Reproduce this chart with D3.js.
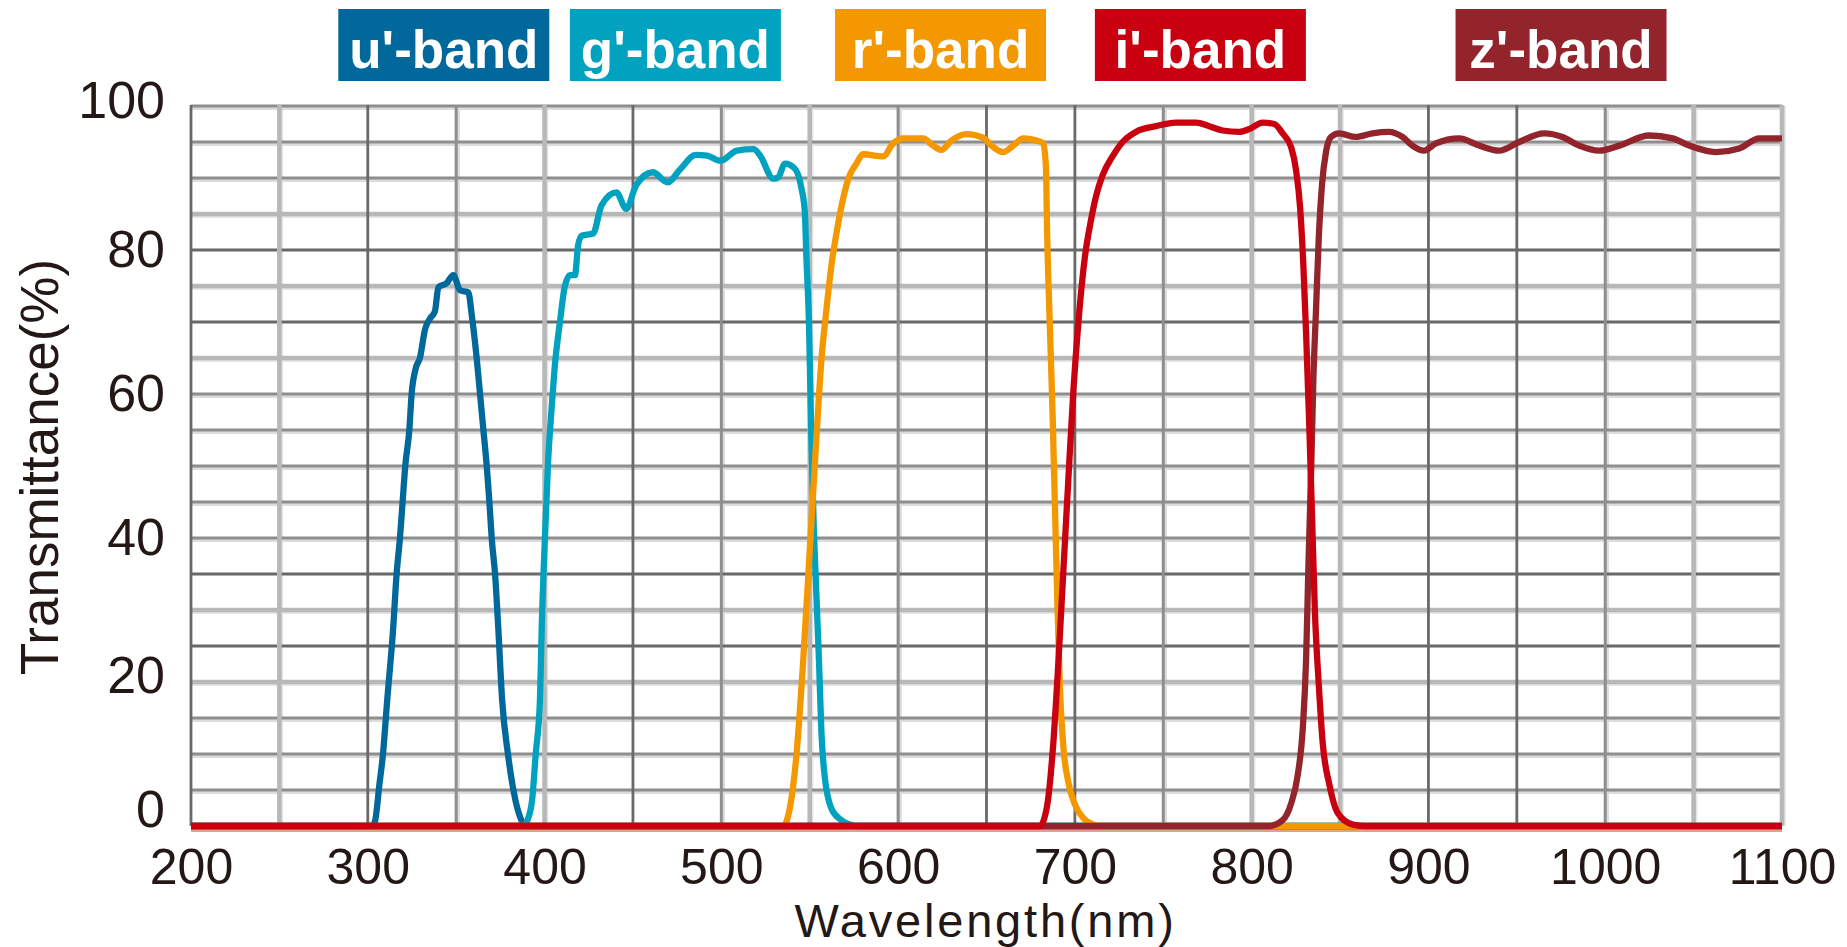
<!DOCTYPE html>
<html>
<head>
<meta charset="utf-8">
<script src="https://cdn.jsdelivr.net/npm/d3@7"></script>
<style>
  html, body { margin: 0; padding: 0; background: #ffffff; }
  svg { display: block; }
  text { font-family: "Liberation Sans", Arial, Helvetica, sans-serif; }
</style>
</head>
<body>
<svg id="chart" width="1847" height="947"></svg>
<script>
// ---------------- DATA ----------------
const bandNames = ["u'-band", "g'-band", "r'-band", "i'-band", "z'-band"];
const bandLabelCenters = [343, 474, 624, 771, 975];   // nm, where each legend tag is centred
const xTickValues = [200, 300, 400, 500, 600, 700, 800, 900, 1000, 1100];
const yTickValues = [0, 20, 40, 60, 80, 100];
const xTitle = "Wavelength(nm)";
const yTitle = "Transmittance(%)";

// [wavelength nm, transmittance %]
const uBand = [[200,0],[302,0],[304,0.6],[306.6,5.8],[308.6,10],[311,17.5],[314.4,27.6],[316.3,35],[318.2,40],
  [319.7,45],[321.2,50],[323.5,55],[324.8,60],[327.3,63.7],[329.5,65],[332.4,69],[335.2,70.5],[338,71.5],
  [339.9,74.8],[344.6,75.4],[348.4,76.5],[352.2,74.4],[356.9,74.1],[358.8,71],[361.6,65],[363.5,60],
  [365.4,55],[367.3,50],[368.8,45],[370.1,40],[372,35],[373.8,27.6],[376,17.5],[379.3,10],[383.6,3.5],
  [387.3,0.6],[389,0],[1100,0]];

const gBand = [[200,0],[389,0],[390,0.6],[392.9,3.5],[395,10],[397.4,17.5],[398.4,27.6],[400.2,40],[402,50.6],
  [404,58],[406,64.4],[408.7,70],[411.5,75],[414.4,76.5],[417.2,76.5],[419,80.7],[421,82],[427.5,82.3],
  [432.2,86.2],[440.6,88],[446.2,85.7],[451.8,89],[461.2,90.8],[469.6,89.4],[477,91.3],[485.5,93.2],
  [492,93.1],[499.5,92.4],[508.8,93.8],[518.2,94],[522,93.1],[529.4,89.9],[532.2,90.1],[536,92],
  [541.6,91.3],[545.3,88.6],[547.2,85.4],[548.1,79.1],[549.6,69.7],[550.9,54],[552.3,41.4],[553.8,32],
  [555.3,22.5],[556.6,13.1],[558.5,6.8],[562.3,2.4],[567.9,0.8],[572.6,0.2],[576,0],[1100,0]];

const rBand = [[200,0],[534.9,0],[538.7,2.4],[542.5,9.9],[546.2,22.5],[550,38.2],[553.8,54],[556.6,64.7],
  [559.4,71.6],[562.3,77.9],[565.1,82.3],[567.9,86],[571.7,89.8],[576.4,92],[580.2,93.3],[591.5,93],
  [597.2,94.8],[602.8,95.5],[614.2,95.5],[619.8,94.5],[624.5,93.9],[630.2,95.2],[638.7,96.1],[648.1,95.6],
  [652.8,94.5],[659.4,93.6],[665.1,94.5],[670.8,95.5],[678.3,95.2],[682.1,94.8],[683.6,91.7],[684.3,82.3],
  [685.8,69.7],[687.4,57.1],[688.7,44.5],[690,32],[691.5,19.4],[693.4,11.2],[696.2,6.2],[700,3],
  [704.7,1.1],[710.4,0.2],[714,0],[1100,0]];

const iBand = [[200,0],[680.2,0],[684,2.4],[687.7,11.2],[690.6,22.5],[693.4,35.1],[696.2,47.7],[699.1,60.3],
  [701.9,69.7],[705.7,79.1],[709,84],[712,87.5],[715.7,90.4],[721.3,93],[727,95],[734.5,96.4],[745.8,97.2],
  [757.2,97.7],[768.5,97.7],[776,97.2],[783.6,96.6],[793,96.4],[798.7,96.8],[806.2,97.7],[812.8,97.5],
  [817.5,96.2],[822.3,94.3],[825.1,91.1],[827.4,85.9],[829.2,78.1],[830.8,68.4],[832.6,55.5],[834.2,42.6],
  [835.8,29.6],[837.9,19.9],[840.2,11.5],[844,5.7],[848.7,1.8],[857.2,0.2],[864.7,0],[1100,0]];

const zBand = [[200,0],[810,0],[817.5,0.8],[822.3,3.1],[826,7],[828.9,13.5],[830.8,23.2],[832.1,36.1],
  [833.6,49],[834.9,62],[836.4,71.7],[837.9,81.4],[839.8,89.1],[842.1,93.7],[844.9,95.7],[849.4,96.2],
  [858.9,95.7],[868.3,96.2],[877.7,96.4],[885.3,95.7],[890.9,94.5],[897.5,93.8],[904.2,94.8],[917.4,95.5],
  [928.7,94.5],[940,93.8],[951.3,95],[965.5,96.2],[975.8,95.7],[985.3,94.5],[996.6,93.8],[1007.9,94.5],
  [1024.9,95.9],[1038.1,95.5],[1047.5,94.5],[1062.6,93.6],[1075.8,94.1],[1087.2,95.5],[1100,95.5]];

const bandSeries = [uBand, gBand, rBand, iBand, zBand];

// ---------------- STYLE ----------------
const bandColors = ["#00689a", "#00a2bf", "#f39800", "#c9000f", "#93242c"];
const drawOrder = [0, 1, 2, 4, 3];
// tone of each grid line as it appears in the reference (D dark, M mid, L light)
const vGridTones = ["D","L","D","M","L","D","M","L","M","D","D","M","L","L","D","D","M","L","L"];
const hGridTones = ["M","M","M","M","L","D","L","D","M","M","M","M","M","L","D","L","D","L","M","M","M"];
const toneStyle = {
  D: { color: "#696969", width: 2.8, halo: null },
  M: { color: "#8e8e8e", width: 3.0, halo: "#dcdcdc" },
  L: { color: "#b8b8b8", width: 4.6, halo: "#e4e4e4" }
};
const textColor = "#231815";

// ---------------- LAYOUT ----------------
const svg = d3.select("#chart");
const x = d3.scaleLinear().domain([200, 1100]).range([191, 1782]);
const y = d3.scaleLinear().domain([0, 100]).range([826, 106]);

// grid
const gridG = svg.append("g");
const vVals = d3.range(200, 1101, 50);
const hVals = d3.range(0, 101, 5);

vVals.forEach((v, i) => {
  const st = toneStyle[vGridTones[i]];
  if (st.halo) gridG.append("line").attr("x1", x(v) + 2.2).attr("x2", x(v) + 2.2)
      .attr("y1", y(100)).attr("y2", y(0)).attr("stroke", st.halo).attr("stroke-width", 3);
});
hVals.forEach((v, i) => {
  const st = toneStyle[hGridTones[i]];
  if (st.halo) gridG.append("line").attr("x1", x(200)).attr("x2", x(1100))
      .attr("y1", y(v) + 2.6).attr("y2", y(v) + 2.6).attr("stroke", st.halo).attr("stroke-width", 3);
});
hVals.forEach((v, i) => {
  const st = toneStyle[hGridTones[i]];
  gridG.append("line").attr("x1", x(200)).attr("x2", x(1100))
    .attr("y1", y(v)).attr("y2", y(v)).attr("stroke", st.color).attr("stroke-width", st.width);
});
vVals.forEach((v, i) => {
  const st = toneStyle[vGridTones[i]];
  gridG.append("line").attr("x1", x(v)).attr("x2", x(v))
    .attr("y1", y(100) - 1).attr("y2", y(0)).attr("stroke", st.color).attr("stroke-width", st.width);
});

// thin tan line under the baseline
svg.append("line").attr("x1", x(200)).attr("x2", x(1100))
  .attr("y1", y(0) + 4.5).attr("y2", y(0) + 4.5)
  .attr("stroke", "#d9a487").attr("stroke-width", 3);

// curves
const line = d3.line().x(d => x(d[0])).y(d => y(d[1])).curve(d3.curveMonotoneX);
const curveG = svg.append("g");
drawOrder.forEach(i => {
  curveG.append("path")
    .datum(bandSeries[i])
    .attr("d", line)
    .attr("fill", "none")
    .attr("stroke", bandColors[i])
    .attr("stroke-width", 6.3)
    .attr("stroke-linejoin", "round")
    .attr("stroke-linecap", "butt");
});

// axes
const xAxis = d3.axisBottom(x).tickValues(xTickValues).tickSize(0).tickPadding(22).tickFormat(d3.format("d"));
const gx = svg.append("g").attr("transform", `translate(0,${y(0)})`).call(xAxis);
gx.select(".domain").remove();
gx.selectAll("text").attr("font-size", 50).attr("fill", textColor)
  .attr("font-family", "'Liberation Sans', Arial, sans-serif");

const yAxis = d3.axisLeft(y).tickValues(yTickValues).tickSize(0).tickPadding(26).tickFormat(d3.format("d"));
const gy = svg.append("g").attr("transform", `translate(${x(200)},0)`).call(yAxis);
gy.select(".domain").remove();
gy.selectAll("text").attr("font-size", 52).attr("fill", textColor)
  .attr("font-family", "'Liberation Sans', Arial, sans-serif");
gy.selectAll(".tick").filter(d => d === 0).select("text").attr("y", -16);
gy.selectAll(".tick").filter(d => d === 100).select("text").attr("y", -5);
gy.selectAll(".tick").filter(d => d === 20).select("text").attr("y", -6);

// axis titles
svg.append("text")
  .attr("x", (x(200) + x(1100)) / 2 - 1).attr("y", 937)
  .attr("text-anchor", "middle").attr("font-size", 47).attr("letter-spacing", 2.8)
  .attr("fill", textColor)
  .text(xTitle);

svg.append("text")
  .attr("transform", `translate(58,${467}) rotate(-90)`)
  .attr("text-anchor", "middle").attr("font-size", 53).attr("fill", textColor)
  .text(yTitle);

// band tags
const tagW = 211, tagTop = 9, tagH = 72;
const tags = svg.append("g").selectAll("g").data(bandNames).join("g")
  .attr("transform", (d, i) => `translate(${x(bandLabelCenters[i])},0)`);
tags.append("rect")
  .attr("x", -tagW / 2).attr("y", tagTop).attr("width", tagW).attr("height", tagH)
  .attr("fill", (d, i) => bandColors[i]);
tags.append("text")
  .attr("x", 0).attr("y", 68)
  .attr("text-anchor", "middle")
  .attr("font-size", 53).attr("font-weight", "bold").attr("fill", "#ffffff")
  .text(d => d);
</script>
</body>
</html>
